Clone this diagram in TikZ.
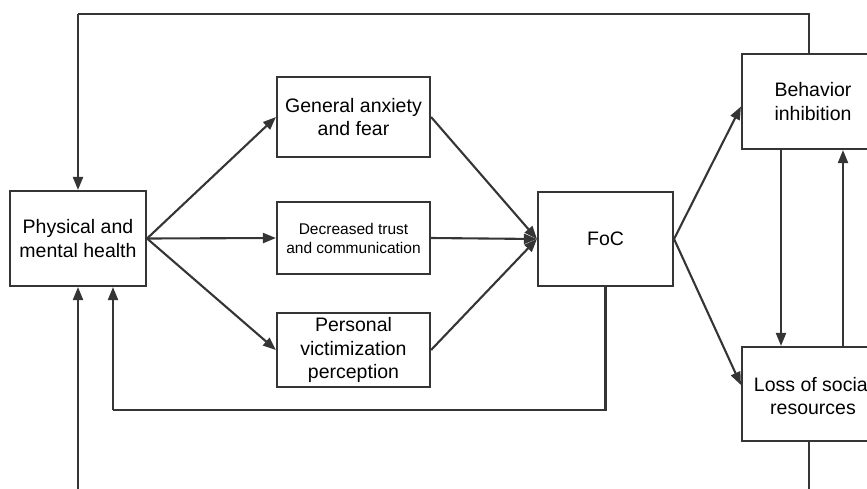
\documentclass[tikz,border=0pt]{standalone}
\usepackage{fontspec}
\setmainfont{Liberation Sans}
\usetikzlibrary{arrows.meta}
\definecolor{ln}{HTML}{353535}
\begin{document}
\begin{tikzpicture}[x=1pt,y=-1pt,
  box/.style={draw=ln, line width=2.1pt, fill=white, align=center, inner sep=0pt,
    font=\fontsize{19.5}{23.5}\selectfont},
  conn/.style={draw=ln, line width=2.1pt},
  arr/.style={conn, -{Triangle[length=13pt,width=10pt]}}]
\useasboundingbox (0,0) rectangle (867,488);
\clip (0,0) rectangle (867,488);
\node[box, minimum width=136pt, minimum height=95pt] (health) at (78,238.5) {Physical and\\mental health};
\node[box, minimum width=153pt, minimum height=80pt] (anx) at (353.5,117) {General anxiety\\and fear};
\node[box, minimum width=153pt, minimum height=72pt, font=\fontsize{15.5}{19}\selectfont] (trust) at (353.5,238) {Decreased trust\\and communication};
\node[box, minimum width=153pt, minimum height=74pt] (vict) at (353.5,350) {Personal\\victimization\\perception};
\node[box, minimum width=135pt, minimum height=94pt] (foc) at (605.5,239) {FoC};
\node[box, minimum width=142pt, minimum height=95pt] (beh) at (813,101.5) {Behavior\\inhibition};
\node[box, minimum width=142pt, minimum height=94pt] (loss) at (813,394) {\\[-5pt]Loss of social\\resources};
\coordinate (topL) at (78,14);
\coordinate (botL) at (78,520);
\coordinate (loopL) at (113,410);
% health to middle column
\draw[arr] (health.east) -- (anx.west);
\draw[arr] (health.east) -- (trust.west);
\draw[arr] (health.east) -- (vict.west);
% middle column to FoC
\draw[arr] (anx.east) -- (foc.west);
\draw[arr] (trust.east) -- (foc.west);
\draw[arr] (vict.east) -- (foc.west);
% FoC to right column
\draw[arr] (foc.east) -- ([yshift=-5pt]beh.west);
\draw[arr] (foc.east) -- ([yshift=9pt]loss.west);
% between right boxes
\draw[arr] ([xshift=-32pt]beh.south) -- ([xshift=-32pt]loss.north);
\draw[arr] ([xshift=30pt]loss.north) -- ([xshift=30pt]beh.south);
% top loop
\draw[conn] ([xshift=-4pt]beh.north) |- (topL);
\draw[arr] (topL) -- (health.north);
% FoC loop back
\draw[conn] (foc.south) |- (loopL);
\draw[arr] (loopL) -- ([xshift=35pt]health.south);
% bottom loop
\draw[conn] ([xshift=-4pt]loss.south) |- (botL);
\draw[arr] (botL) -- (health.south);
\end{tikzpicture}
\end{document}
